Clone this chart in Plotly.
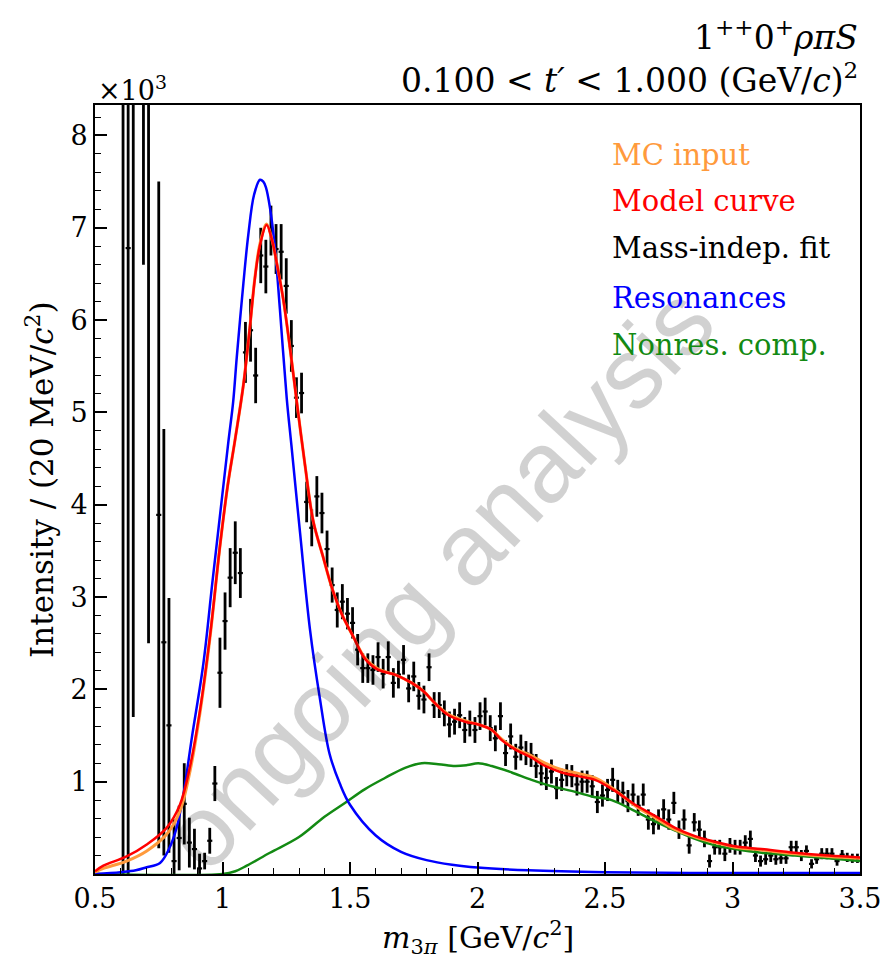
import plotly.graph_objects as go

# ---------------- data (intensities in units of 10^3) ----------------
mass_pts = [0.61, 0.63, 0.65, 0.69, 0.71, 0.75, 0.77, 0.79, 0.81, 0.83, 0.85, 0.87, 0.89, 0.91, 0.93,
            0.95, 0.97, 0.99, 1.01, 1.03, 1.05, 1.07, 1.09, 1.11, 1.13, 1.15, 1.17, 1.19, 1.21, 1.23,
            1.25, 1.27, 1.29, 1.31, 1.33, 1.35, 1.37, 1.39, 1.41, 1.43, 1.45, 1.47, 1.49, 1.51, 1.53,
            1.55, 1.57, 1.59, 1.61, 1.63, 1.65, 1.67, 1.69, 1.71, 1.73, 1.75, 1.77, 1.79, 1.81, 1.83,
            1.85, 1.87, 1.89, 1.91, 1.93, 1.95, 1.97, 1.99, 2.01, 2.03, 2.05, 2.07, 2.09, 2.11, 2.13,
            2.15, 2.17, 2.19, 2.21, 2.23, 2.25, 2.27, 2.29, 2.31, 2.33, 2.35, 2.37, 2.39, 2.41, 2.43,
            2.45, 2.47, 2.49, 2.51, 2.53, 2.55, 2.57, 2.59, 2.61, 2.63, 2.65, 2.67, 2.69, 2.71, 2.73,
            2.75, 2.77, 2.79, 2.81, 2.83, 2.85, 2.87, 2.89, 2.91, 2.93, 2.95, 2.97, 2.99, 3.01, 3.03,
            3.05, 3.07, 3.09, 3.11, 3.13, 3.15, 3.17, 3.19, 3.21, 3.23, 3.25, 3.27, 3.29, 3.31, 3.33,
            3.35, 3.37, 3.39, 3.41, 3.43, 3.45, 3.47, 3.49]
intensity_pts = [8.8, 6.78, 9.0, 9.6, 9.2, 3.89, 2.51, 1.61, 0.14, 0.39, 0.76, 0.34, 0.27, 0.06, 0.14,
                 0.36, 0.98, 2.18, 2.74, 3.21, 3.48, 3.26, 5.65, 5.89, 5.40, 6.70, 6.58, 6.97, 6.77, 6.74,
                 6.37, 5.72, 5.16, 5.21, 4.03, 3.75, 4.09, 3.91, 3.52, 3.13, 2.86, 2.95, 2.82, 2.72, 2.43,
                 2.23, 2.23, 2.21, 2.35, 2.17, 2.35, 2.07, 2.16, 2.32, 2.01, 2.14, 1.93, 1.89, 2.24, 1.83,
                 1.83, 1.74, 1.62, 1.65, 1.72, 1.56, 1.63, 1.56, 1.71, 1.76, 1.58, 1.47, 1.71, 1.31, 1.49,
                 1.27, 1.37, 1.31, 1.29, 1.17, 1.09, 1.04, 1.11, 0.93, 1.02, 1.07, 1.06, 0.97, 1.00, 1.00,
                 0.95, 0.78, 0.85, 0.91, 1.02, 0.90, 0.88, 0.79, 0.86, 0.74, 0.86, 0.59, 0.54, 0.59, 0.70,
                 0.59, 0.77, 0.48, 0.59, 0.31, 0.56, 0.48, 0.38, 0.14, 0.29, 0.29, 0.22, 0.31, 0.29, 0.29,
                 0.34, 0.38, 0.20, 0.14, 0.16, 0.20, 0.16, 0.17, 0.17, 0.29, 0.29, 0.20, 0.25, 0.11, 0.16,
                 0.22, 0.22, 0.22, 0.14, 0.21, 0.18, 0.17, 0.17]
error_pts = [9.5, 7.6, 7.3, 3.0, 6.7, 3.61, 2.31, 1.38, 0.45, 0.35, 0.44, 0.27, 0.22, 0.16, 0.09,
             0.14, 0.19, 0.38, 0.31, 0.32, 0.34, 0.27, 0.33, 0.34, 0.30, 0.30, 0.29, 0.27, 0.27, 0.30,
             0.30, 0.28, 0.22, 0.22, 0.22, 0.20, 0.22, 0.22, 0.20, 0.19, 0.19, 0.19, 0.17, 0.17, 0.17,
             0.16, 0.16, 0.16, 0.16, 0.16, 0.17, 0.16, 0.15, 0.16, 0.15, 0.16, 0.15, 0.15, 0.15, 0.14,
             0.14, 0.14, 0.14, 0.14, 0.14, 0.14, 0.14, 0.14, 0.15, 0.15, 0.14, 0.14, 0.15, 0.14, 0.14,
             0.14, 0.14, 0.13, 0.13, 0.13, 0.13, 0.13, 0.13, 0.12, 0.12, 0.12, 0.12, 0.12, 0.12, 0.12,
             0.12, 0.12, 0.12, 0.12, 0.13, 0.12, 0.12, 0.12, 0.12, 0.11, 0.12, 0.11, 0.11, 0.11, 0.11,
             0.11, 0.12, 0.10, 0.11, 0.09, 0.10, 0.10, 0.09, 0.07, 0.08, 0.08, 0.08, 0.08, 0.08, 0.08,
             0.08, 0.09, 0.07, 0.06, 0.06, 0.07, 0.06, 0.06, 0.06, 0.07, 0.07, 0.06, 0.06, 0.05, 0.05,
             0.06, 0.06, 0.06, 0.05, 0.05, 0.05, 0.05, 0.05]
bin_half_width = [0.01] * len(mass_pts)

mass_res = [0.50, 0.60, 0.66, 0.70, 0.755, 0.79, 0.82, 0.846, 0.88, 0.925, 0.96, 0.997, 1.023, 1.042,
            1.056, 1.082, 1.101, 1.124, 1.147, 1.16, 1.17, 1.186, 1.206, 1.225, 1.252, 1.27, 1.304,
            1.343, 1.382, 1.42, 1.46, 1.50, 1.60, 1.70, 1.80, 1.90, 2.00, 2.20, 2.50, 3.00, 3.50]
int_res = [0.00, 0.02, 0.04, 0.07, 0.12, 0.27, 0.50, 0.85, 1.48, 2.28, 3.15, 4.05, 4.68, 5.12,
           5.60, 6.40, 6.92, 7.36, 7.52, 7.50, 7.44, 7.22, 6.77, 6.12, 5.15, 4.65, 3.70,
           2.65, 1.90, 1.30, 0.98, 0.75, 0.42, 0.24, 0.15, 0.10, 0.07, 0.04, 0.02, 0.01, 0.01]

mass_model = [0.50, 0.533, 0.624, 0.703, 0.781, 0.833, 0.873, 0.912, 0.951, 0.99, 1.02, 1.049, 1.082,
              1.108, 1.127, 1.147, 1.173, 1.193, 1.212, 1.238, 1.265, 1.291, 1.324, 1.356, 1.395,
              1.428, 1.467, 1.513, 1.559, 1.611, 1.676, 1.742, 1.788, 1.833, 1.886, 1.951, 2.003,
              2.056, 2.095, 2.147, 2.212, 2.265, 2.33, 2.395, 2.461, 2.539, 2.618, 2.696, 2.775,
              2.853, 2.931, 3.01, 3.114, 3.245, 3.376, 3.50]
int_model = [0.03, 0.09, 0.19, 0.32, 0.50, 0.75, 1.17, 1.78, 2.58, 3.55, 4.20, 4.70, 5.30,
             5.94, 6.45, 6.81, 7.03, 6.88, 6.63, 6.23, 5.69, 5.12, 4.42, 3.82, 3.43,
             3.11, 2.82, 2.57, 2.33, 2.21, 2.16, 2.07, 1.98, 1.85, 1.72, 1.65, 1.62,
             1.56, 1.45, 1.35, 1.26, 1.17, 1.10, 1.06, 1.02, 0.90, 0.75, 0.63, 0.50,
             0.41, 0.35, 0.30, 0.27, 0.23, 0.20, 0.18]
int_mc = [0.02, 0.06, 0.14, 0.25, 0.43, 0.68, 1.12, 1.75, 2.56, 3.55, 4.20, 4.70, 5.30,
          5.94, 6.46, 6.83, 7.04, 6.88, 6.63, 6.23, 5.69, 5.12, 4.42, 3.82, 3.43,
          3.11, 2.82, 2.57, 2.34, 2.22, 2.16, 2.07, 1.98, 1.85, 1.73, 1.66, 1.62,
          1.56, 1.46, 1.36, 1.28, 1.20, 1.13, 1.09, 1.04, 0.91, 0.74, 0.61, 0.48,
          0.40, 0.34, 0.29, 0.26, 0.22, 0.19, 0.17]

mass_nonres = [0.50, 1.00, 1.05, 1.095, 1.186, 1.30, 1.40, 1.48, 1.559, 1.637, 1.716, 1.781, 1.846,
               1.912, 1.96, 2.003, 2.056, 2.134, 2.212, 2.291, 2.369, 2.448, 2.526, 2.618, 2.696,
               2.775, 2.853, 2.931, 3.01, 3.114, 3.245, 3.376, 3.50]
int_nonres = [0.00, 0.00, 0.03, 0.09, 0.23, 0.40, 0.62, 0.77, 0.92, 1.04, 1.15, 1.20, 1.19,
              1.17, 1.18, 1.20, 1.17, 1.10, 1.02, 0.95, 0.90, 0.84, 0.80, 0.68, 0.57,
              0.47, 0.38, 0.31, 0.27, 0.23, 0.20, 0.17, 0.14]

x_ticks = [0.5, 1, 1.5, 2, 2.5, 3, 3.5]
x_tick_labels = ["0.5", "1", "1.5", "2", "2.5", "3", "3.5"]
y_ticks = [1, 2, 3, 4, 5, 6, 7, 8]
y_tick_labels = ["1", "2", "3", "4", "5", "6", "7", "8"]

legend_labels = ["MC input", "Model curve", "Mass-indep. fit", "Resonances", "Nonres. comp."]
legend_colors = ["#ff9a3c", "#ff0000", "#000000", "#0000ff", "#138a13"]

# ---------------- figure ----------------
SERIF = "DejaVu Serif"
W, H = 884, 961
L, R, T, B = 95, 860, 105, 874

def px(xp):
    return (xp - L) / (R - L)

def py(yp):
    return (B - yp) / (B - T)

fig = go.Figure()

fig.add_trace(go.Scatter(
    x=mass_pts, y=intensity_pts, mode="markers",
    marker=dict(size=2, color="black"),
    error_y=dict(type="data", array=error_pts, visible=True, color="black", thickness=2.8, width=0),
    error_x=dict(type="data", array=bin_half_width, visible=True, color="black", thickness=2.2, width=0),
    showlegend=False,
))
fig.add_trace(go.Scatter(x=mass_nonres, y=int_nonres, mode="lines",
                         line=dict(color=legend_colors[4], width=2.5, shape="spline"), showlegend=False))
fig.add_trace(go.Scatter(x=mass_res, y=int_res, mode="lines",
                         line=dict(color=legend_colors[3], width=2.5, shape="spline"), showlegend=False))
fig.add_trace(go.Scatter(x=mass_model, y=int_mc, mode="lines",
                         line=dict(color=legend_colors[0], width=3, shape="spline"), showlegend=False))
fig.add_trace(go.Scatter(x=mass_model, y=int_model, mode="lines",
                         line=dict(color=legend_colors[1], width=2.5, shape="spline"), showlegend=False))

axis_common = dict(
    showline=True, linecolor="black", linewidth=2, mirror=True, automargin=False,
    ticks="inside", ticklen=12, tickwidth=1.5, tickcolor="black",
    showgrid=False, zeroline=False,
    tickfont=dict(family=SERIF, size=27, color="black"),
)
fig.update_xaxes(range=[0.5, 3.5], tickvals=x_ticks, ticktext=x_tick_labels,
                 minor=dict(dtick=0.1, ticks="inside", ticklen=6, tickwidth=1.2, tickcolor="black"),
                 **axis_common)
fig.update_yaxes(range=[0, 8.33], tickvals=y_ticks, ticktext=y_tick_labels,
                 minor=dict(dtick=0.2, ticks="inside", ticklen=6, tickwidth=1.2, tickcolor="black"),
                 **axis_common)

annotations = [
    dict(text="1<sup>++</sup>0<sup>+</sup><i>ρπS</i>", x=1.0, y=py(35), xanchor="right", yanchor="middle",
         font=dict(family=SERIF, size=33, color="black")),
    dict(text="0.100&nbsp;&lt;&nbsp;<i>t′</i>&nbsp;&lt;&nbsp;1.000&nbsp;(GeV/<i>c</i>)<sup>2</sup>", x=1.0, y=py(78),
         xanchor="right", yanchor="middle", font=dict(family=SERIF, size=33, color="black")),
    dict(text="×10<sup>3</sup>", x=px(96), y=py(88), xanchor="left", yanchor="middle",
         font=dict(family=SERIF, size=27, color="black")),
    dict(text="<i>m</i><sub>3<i>π</i></sub> [GeV/<i>c</i><sup>2</sup>]", x=0.5, y=py(938),
         xanchor="center", yanchor="middle", font=dict(family=SERIF, size=30, color="black")),
    dict(text="Intensity&nbsp;/&nbsp;(20&nbsp;MeV/<i>c</i><sup>2</sup>)", x=px(40), y=py(480), textangle=-90,
         xanchor="center", yanchor="middle", font=dict(family=SERIF, size=31, color="black")),
    dict(text="ongoing analysis", x=px(438), y=py(578), textangle=-47,
         xanchor="center", yanchor="middle",
         font=dict(family="Liberation Sans, Arial, sans-serif", size=101, color="rgba(0,0,0,0.18)")),
]
legend_y = [155, 201, 248, 298, 345]
for lab, col, yy in zip(legend_labels, legend_colors, legend_y):
    annotations.append(dict(text=lab, x=px(610), y=py(yy), xanchor="left", yanchor="middle",
                            font=dict(family=SERIF, size=29, color=col)))
for a in annotations:
    a.update(xref="paper", yref="paper", showarrow=False)

fig.update_layout(
    width=W, height=H,
    margin=dict(l=L, r=W - R, t=T, b=H - B, autoexpand=False),
    paper_bgcolor="white", plot_bgcolor="white",
    annotations=annotations,
    showlegend=False,
)

fig.write_html("out.html")
